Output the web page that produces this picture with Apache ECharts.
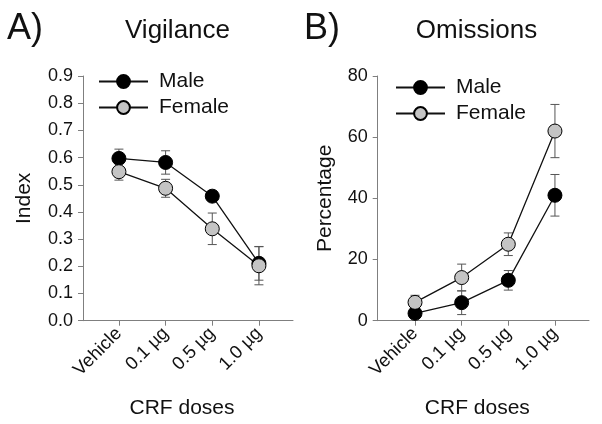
<!DOCTYPE html>
<html>
<head>
<meta charset="utf-8">
<script src="https://cdn.jsdelivr.net/npm/echarts@6/dist/echarts.min.js"></script>
<style>html,body{margin:0;padding:0;background:#fff}#c{width:602px;height:424px}</style>
</head>
<body>
<div id="c"></div>
<script>
var categories = ['Vehicle', '0.1 µg', '0.5 µg', '1.0 µg'];
var vigMale = [0.597, 0.582, 0.458, 0.211];
var vigMaleErr = [0.034, 0.043, 0.02, 0.062];
var vigFemale = [0.548, 0.487, 0.338, 0.202];
var vigFemaleErr = [0.031, 0.033, 0.058, 0.07];
var omiMale = [2.4, 5.9, 13.2, 41.0];
var omiMaleErr = [1.2, 3.9, 3.2, 6.8];
var omiFemale = [6.0, 14.1, 25.0, 62.0];
var omiFemaleErr = [2.3, 4.4, 3.7, 8.7];
var vigTicks = [0, 0.1, 0.2, 0.3, 0.4, 0.5, 0.6, 0.7, 0.8, 0.9];
var omiTicks = [0, 20, 40, 60, 80];

var FONT = "'Liberation Sans', Arial, sans-serif";
var AX = '#7f7f7f';

function pts(vals) { return vals.map(function (v, i) { return [i, v]; }); }
function errs(vals, e) { return vals.map(function (v, i) { return [i, v - e[i], v + e[i]]; }); }

function errRender(params, api) {
  var x = api.value(0);
  var lo = api.coord([x, api.value(1)]);
  var hi = api.coord([x, api.value(2)]);
  var w = 4.5;
  var st = { stroke: '#555', lineWidth: 1 };
  return {
    type: 'group',
    children: [
      { type: 'line', shape: { x1: lo[0], y1: lo[1], x2: hi[0], y2: hi[1] }, style: st },
      { type: 'line', shape: { x1: lo[0] - w, y1: lo[1], x2: lo[0] + w, y2: lo[1] }, style: st },
      { type: 'line', shape: { x1: hi[0] - w, y1: hi[1], x2: hi[0] + w, y2: hi[1] }, style: st }
    ]
  };
}

function xAxisCfg(gi, min, max) {
  return {
    type: 'value', gridIndex: gi, min: min, max: max,
    splitLine: { show: false },
    axisLine: { show: true, onZero: false, lineStyle: { color: AX, width: 1 } },
    axisTick: { show: true, length: 5, lineStyle: { color: AX }, customValues: [0, 1, 2, 3] },
    axisLabel: {
      customValues: [0, 1, 2, 3], rotate: 45, margin: 10,
      fontFamily: FONT, fontSize: 18.5, color: '#111',
      formatter: function (v) { return categories[Math.round(v)]; }
    },
    name: 'CRF doses', nameLocation: 'middle', nameGap: 77,
    nameTextStyle: { fontFamily: FONT, fontSize: 21, color: '#111', padding: [0, 12, 0, 0] }
  };
}

function yAxisCfg(gi, ticks, name, gap, dec) {
  return {
    type: 'value', gridIndex: gi, min: ticks[0], max: ticks[ticks.length - 1],
    interval: ticks[1] - ticks[0],
    splitLine: { show: false },
    axisLine: { show: true, onZero: false, lineStyle: { color: AX, width: 1 } },
    axisTick: { show: true, length: 5, lineStyle: { color: AX } },
    axisLabel: {
      margin: 10, fontFamily: FONT, fontSize: 18, color: '#111',
      formatter: function (v) { return v.toFixed(dec); }
    },
    name: name, nameLocation: 'middle', nameGap: gap,
    nameTextStyle: { fontFamily: FONT, fontSize: 21, color: '#111' }
  };
}

function lineSeries(name, gi, data, fill) {
  return {
    type: 'line', name: name, xAxisIndex: gi, yAxisIndex: gi,
    data: pts(data), symbol: 'circle', symbolSize: 14,
    lineStyle: { color: '#111', width: 1.3 },
    itemStyle: { color: fill, borderColor: '#000', borderWidth: 1 },
    z: 3, animation: false
  };
}
function errSeries(gi, data, e) {
  return {
    type: 'custom', xAxisIndex: gi, yAxisIndex: gi,
    data: errs(data, e), renderItem: errRender, z: 2, animation: false,
    encode: { x: 0, y: [1, 2] }, silent: true
  };
}

var legendBase = {
  orient: 'vertical', itemWidth: 49, itemHeight: 16, itemGap: 5,
  data: ['Male', 'Female'], selectedMode: false,
  textStyle: { fontFamily: FONT, fontSize: 21, color: '#111', padding: [0, 0, 0, 6] }
};

var option = {
  backgroundColor: '#fff',
  animation: false,
  grid: [
    { left: 83, top: 76, width: 210, height: 244.7 },
    { left: 377.7, top: 76, width: 211.3, height: 244.7 }
  ],
  xAxis: [xAxisCfg(0, -0.77, 3.73), xAxisCfg(1, -0.8, 3.73)],
  yAxis: [yAxisCfg(0, vigTicks, 'Index', 48, 1), yAxisCfg(1, omiTicks, 'Percentage', 42, 0)],
  legend: [
    Object.assign({}, legendBase, { left: 93, top: 66 }),
    Object.assign({}, legendBase, { left: 390, top: 72 })
  ],
  graphic: [
    { type: 'text', left: 7, top: 11, style: { text: 'A)', font: '36px ' + FONT, fill: '#111' } },
    { type: 'text', x: 177.5, y: 31, style: { text: 'Vigilance', font: '26px ' + FONT, fill: '#111', textAlign: 'center', textVerticalAlign: 'middle' } },
    { type: 'text', left: 304, top: 11, style: { text: 'B)', font: '36px ' + FONT, fill: '#111' } },
    { type: 'text', x: 476.5, y: 31, style: { text: 'Omissions', font: '26px ' + FONT, fill: '#111', textAlign: 'center', textVerticalAlign: 'middle' } }
  ],
  series: [
    errSeries(0, vigMale, vigMaleErr),
    errSeries(0, vigFemale, vigFemaleErr),
    lineSeries('Male', 0, vigMale, '#000'),
    lineSeries('Female', 0, vigFemale, '#c4c4c4'),
    errSeries(1, omiMale, omiMaleErr),
    errSeries(1, omiFemale, omiFemaleErr),
    lineSeries('Male', 1, omiMale, '#000'),
    lineSeries('Female', 1, omiFemale, '#c4c4c4')
  ]
};
var chart = echarts.init(document.getElementById('c'), null, { renderer: 'canvas' });
chart.setOption(option);
</script>
</body>
</html>
